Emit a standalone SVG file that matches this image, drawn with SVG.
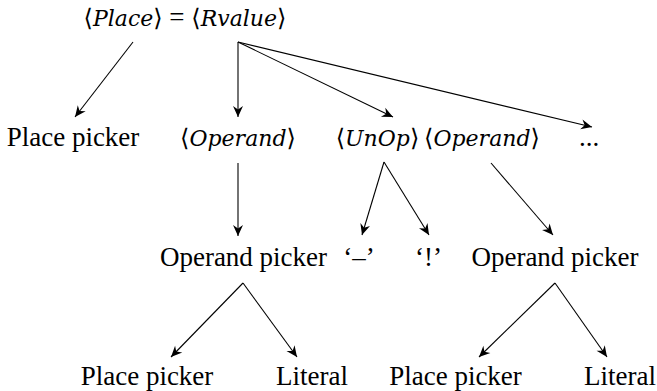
<svg xmlns="http://www.w3.org/2000/svg" width="657" height="391" viewBox="0 0 657 391">
<style>
text{font-family:"Liberation Serif",serif;font-size:27px;fill:#000;text-anchor:middle}
.i{font-family:"DejaVu Serif","Liberation Serif",serif;font-style:italic;font-size:22px}
.k{font-family:"DejaVu Serif","DejaVu Sans",serif;font-style:normal;font-size:24px}
.c line{stroke:#000;stroke-width:1.1;marker-end:url(#ah)}
</style>
<defs>
<marker id="ah" markerUnits="userSpaceOnUse" markerWidth="16" markerHeight="12" viewBox="-12 -6 14 12" refX="0" refY="0" orient="auto">
<path d="M-11,-5 L0,0 L-11,5 L-7.5,0 Z" fill="#000"/>
</marker>
</defs>
<rect width="657" height="391" fill="#fff"/>
<g class="c">
<line x1="133" y1="42" x2="75" y2="117"/>
<line x1="238" y1="42" x2="238" y2="117"/>
<line x1="238" y1="42" x2="393" y2="117"/>
<line x1="238" y1="42" x2="592" y2="127"/>
<line x1="238" y1="163" x2="238" y2="236"/>
<line x1="384" y1="162" x2="362" y2="235"/>
<line x1="384" y1="162" x2="429" y2="235"/>
<line x1="491" y1="163" x2="553" y2="235"/>
<line x1="243" y1="283" x2="171" y2="357"/>
<line x1="243" y1="283" x2="297" y2="357"/>
<line x1="555" y1="283" x2="479" y2="357"/>
<line x1="555" y1="283" x2="607" y2="357"/>
</g>
<g id="root"><text x="185" y="26"><tspan class="k">⟨</tspan><tspan class="i">Place</tspan><tspan class="k">⟩</tspan> = <tspan class="k">⟨</tspan><tspan class="i">Rvalue</tspan><tspan class="k">⟩</tspan></text></g>
<g id="placepicker1"><text x="73" y="146">Place picker</text></g>
<g id="operand1"><text x="238" y="146"><tspan class="k">⟨</tspan><tspan class="i">Operand</tspan><tspan class="k">⟩</tspan></text></g>
<g id="unop"><text x="377.5" y="146"><tspan class="k">⟨</tspan><tspan class="i">UnOp</tspan><tspan class="k">⟩</tspan></text></g>
<g id="operand2"><text x="482" y="146"><tspan class="k">⟨</tspan><tspan class="i">Operand</tspan><tspan class="k">⟩</tspan></text></g>
<g id="dots"><text x="589" y="146">...</text></g>
<g id="operandpicker1"><text x="243.5" y="266">Operand picker</text></g>
<g id="minus"><text x="359" y="266">‘–’</text></g>
<g id="bang"><text x="428.5" y="266">‘!’</text></g>
<g id="operandpicker2"><text x="555" y="266">Operand picker</text></g>
<g id="placepicker2"><text x="147" y="385">Place picker</text></g>
<g id="literal1"><text x="312" y="385">Literal</text></g>
<g id="placepicker3"><text x="455.5" y="385">Place picker</text></g>
<g id="literal2"><text x="620" y="385">Literal</text></g>
</svg>
